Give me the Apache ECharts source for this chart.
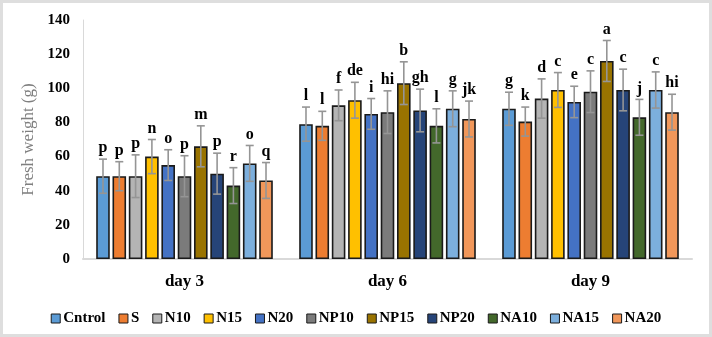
<!DOCTYPE html>
<html>
<head>
<meta charset="utf-8">
<script src="https://cdn.jsdelivr.net/npm/echarts@6/dist/echarts.min.js"></script>
<style>
  html, body { margin: 0; padding: 0; background: #fff; }
  #wrap { position: relative; width: 712px; height: 337px; }
  #chart { position: absolute; left: 0; top: 0; width: 712px; height: 337px; }
  #frame { position: absolute; left: 0; top: 0; width: 712px; height: 337px; box-sizing: border-box;
           border: 3px solid #dedede; pointer-events: none; }
</style>
</head>
<body>
<div id="wrap">
  <div id="chart"></div>
  <div id="frame"></div>
</div>
<script>
// categories (days) and treatments
const categories = ["day 3", "day 6", "day 9"];
const treatments = ["Cntrol", "S", "N10", "N15", "N20", "NP10", "NP15", "NP20", "NA10", "NA15", "NA20"];
const colors = ["#5B9BD5", "#ED7D31", "#B4B4B4", "#FFC000", "#4472C4", "#7B7B7B",
                "#997300", "#264478", "#43682B", "#7CAFDD", "#F1975A"];

// mean fresh weight (g), one array per day, in treatment order
const day3Mean = [48.5, 48.5, 48.5, 60, 55, 48.5, 66, 50, 43, 56, 46];
const day6Mean = [79, 78, 90, 93, 85, 86, 103, 87, 78, 88, 82];
const day9Mean = [88, 80.5, 94, 99, 92, 98, 116, 99, 83, 99, 86];

// error (+/-)
const day3Err = [10, 8.5, 12.5, 10, 9, 12, 12, 12, 10.5, 10.5, 10.5];
const day6Err = [10, 8.5, 9, 10.5, 9, 12.5, 12.5, 12.5, 10, 10.5, 10.5];
const day9Err = [9.7, 8.5, 11.5, 10.2, 9.2, 12.2, 12, 12.2, 10.5, 10.6, 10.5];

// significance letters
const day3Letters = ["p", "p", "p", "n", "o", "p", "m", "p", "r", "o", "q"];
const day6Letters = ["l", "l", "f", "de", "i", "hi", "b", "gh", "l", "g", "jk"];
const day9Letters = ["g", "k", "d", "c", "e", "c", "a", "c", "j", "c", "hi"];

const yTicks = [0, 20, 40, 60, 80, 100, 120, 140];

const means = [day3Mean, day6Mean, day9Mean];
const errs = [day3Err, day6Err, day9Err];
const letters = [day3Letters, day6Letters, day9Letters];

const BAR_GAP = 0.2;      // barGap as fraction of bar width
const CAT_GAP = 0.13;     // barCategoryGap as fraction of band
const FONT = "'Liberation Serif', 'Times New Roman', serif";

const chart = echarts.init(document.getElementById("chart"));

// bar series, one per treatment
const barSeries = treatments.map((name, s) => ({
  name: name,
  type: "bar",
  data: means.map(m => m[s]),
  barGap: (BAR_GAP * 100) + "%",
  barCategoryGap: (CAT_GAP * 100) + "%",
  itemStyle: { color: colors[s], borderColor: "#1a1a1a", borderWidth: 1.6 },
  z: 2
}));

// error bars + letters: [catIndex, treatmentIndex, mean, err, letter]
const errData = [];
for (let c = 0; c < categories.length; c++) {
  for (let s = 0; s < treatments.length; s++) {
    errData.push([c, s, means[c][s], errs[c][s], letters[c][s]]);
  }
}

const nSeries = treatments.length;
const errSeries = {
  type: "custom",
  name: "err",
  z: 5,
  data: errData,
  encode: { x: 0, y: 2 },
  renderItem: function (params, api) {
    const c = api.value(0), s = api.value(1), m = api.value(2), e = api.value(3);
    const letter = errData[params.dataIndex][4];
    const band = api.size([1, 0])[0];
    const groupW = band * (1 - CAT_GAP);
    const barW = groupW / (nSeries + (nSeries - 1) * BAR_GAP);
    const cx = api.coord([c, 0])[0] - groupW / 2 + s * barW * (1 + BAR_GAP) + barW / 2;
    const yHi = api.coord([c, m + e])[1];
    const yLo = api.coord([c, m - e])[1];
    const cap = 4;
    const st = { stroke: "#959595", lineWidth: 1.6 };
    return {
      type: "group",
      children: [
        { type: "line", shape: { x1: cx, y1: yHi, x2: cx, y2: yLo }, style: st },
        { type: "line", shape: { x1: cx - cap, y1: yHi, x2: cx + cap, y2: yHi }, style: st },
        { type: "line", shape: { x1: cx - cap, y1: yLo, x2: cx + cap, y2: yLo }, style: st },
        { type: "text", x: cx, y: yHi - 3,
          style: { text: letter, textAlign: "center", textVerticalAlign: "bottom",
                   fill: "#000", font: "bold 16px " + FONT } }
      ]
    };
  }
};

const option = {
  animation: false,
  color: colors,
  grid: { left: 83, right: 20, top: 20, bottom: 78 },
  legend: {
    data: treatments,
    bottom: 6,
    left: "center",
    itemWidth: 9,
    itemHeight: 9,
    itemGap: 13,
    icon: "rect",
    itemStyle: { borderColor: "#1a1a1a", borderWidth: 1 },
    textStyle: { fontFamily: FONT, fontWeight: "bold", fontSize: 15, color: "#000", padding: [0, 0, 0, -2] }
  },
  xAxis: {
    type: "category",
    data: categories,
    axisLine: { show: true, lineStyle: { color: "#d9d9d9", width: 2 } },
    axisTick: { show: false },
    axisLabel: { fontFamily: FONT, fontWeight: "bold", fontSize: 17, color: "#000", margin: 14 }
  },
  yAxis: {
    type: "value",
    min: 0,
    max: yTicks[yTicks.length - 1],
    interval: yTicks[1] - yTicks[0],
    name: "Fresh weight (g)",
    nameLocation: "middle",
    nameGap: 41,
    nameTextStyle: { fontFamily: FONT, fontSize: 17, color: "#7f7f7f" },
    axisLine: { show: true, lineStyle: { color: "#d9d9d9", width: 1 } },
    axisTick: { show: false },
    splitLine: { show: false },
    axisLabel: { fontFamily: FONT, fontWeight: "bold", fontSize: 15, color: "#000", margin: 13 }
  },
  series: barSeries.concat([errSeries])
};

chart.setOption(option);
</script>
</body>
</html>
